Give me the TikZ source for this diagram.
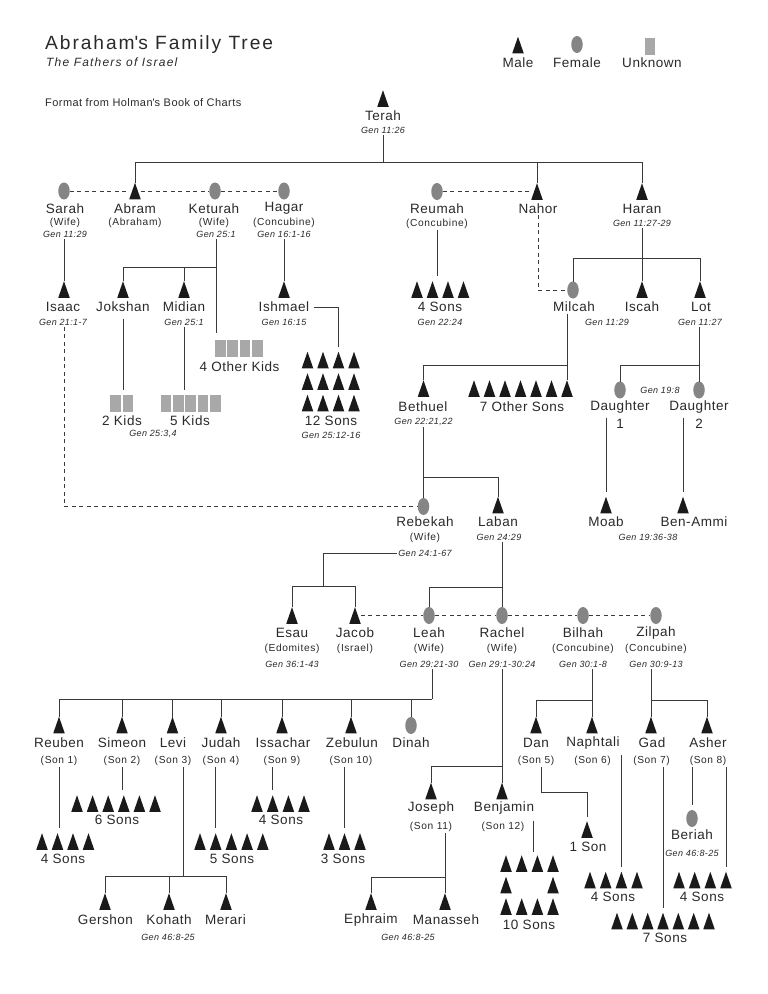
\documentclass[tikz,border=0pt]{standalone}
\usepackage{fontspec}
\setmainfont{Liberation Sans}[LetterSpace=4]
\usetikzlibrary{shapes.geometric}
\definecolor{malec}{HTML}{1A1A1A}
\definecolor{femc}{HTML}{858585}
\definecolor{unkc}{HTML}{A8A8A8}
\definecolor{linec}{HTML}{3A3A3A}
\definecolor{txtc}{HTML}{2A2A2A}
\newcommand\maleS[3]{\node[symbox] (#1) at (#2,#3) {};\fill[malec] (#1.south west) -- (#1.south east) -- (#1.north) -- cycle;}
\newcommand\femS[3]{\node[fembox] (#1) at (#2,#3) {};}
\newcommand\unkS[3]{\node[unkbox] (#1) at (#2,#3) {};}
\tikzset{
 symbox/.style={rectangle, minimum width=11.5pt, minimum height=16.5pt, inner sep=0pt, outer sep=0pt},
 fembox/.style={ellipse, fill=femc, minimum width=11.5pt, minimum height=17pt, inner sep=0pt, outer sep=0pt},
 unkbox/.style={rectangle, fill=unkc, minimum width=10.5pt, minimum height=17pt, inner sep=0pt, outer sep=0pt},
 nm/.style={font=\fontsize{13.5}{15}\selectfont, text=txtc, inner sep=1.5pt},
 pr/.style={font=\fontsize{10.2}{11}\selectfont\addfontfeature{LetterSpace=6}, text=txtc, inner sep=1.5pt},
 gn/.style={font=\fontsize{9}{10}\selectfont\itshape, text=txtc, inner sep=1.5pt},
 link/.style={draw=linec, line width=0.8pt},
 dlink/.style={link, dash pattern=on 4pt off 3.5pt},
 gapend/.style={shorten >=5pt},
}
\begin{document}
\begin{tikzpicture}[x=1pt,y=-1pt]
\fill[white] (0,0) rectangle (768,994);
\useasboundingbox (0,0) rectangle (768,994);
% ---- title & legend
\node[anchor=west, font=\fontsize{19.2}{21}\selectfont\addfontfeature{LetterSpace=10}, text=txtc, inner sep=0pt] (title) at (45,45) {Abraham\textquotesingle s Family Tree};
\node[anchor=west, font=\fontsize{12}{13}\selectfont\itshape\addfontfeature{LetterSpace=10}, text=txtc, inner sep=0pt] (subtitle) at (46,62) {The Fathers of Israel};
\node[anchor=west, font=\fontsize{11}{12}\selectfont, text=txtc, inner sep=0pt] (format) at (45,103) {Format from Holman\textquotesingle s Book of Charts};
\maleS{lgm}{518}{45}
\femS{lgf}{577}{44.5}
\unkS{lgu}{650}{46}
\node[nm] (lgmT) at (518,62.5) {Male};
\node[nm] (lgfT) at (577,62.5) {Female};
\node[nm] (lguT) at (652,63) {Unknown};
% ---- Terah
\maleS{terah}{383}{98.5}
\node[nm] (terahN) at (383,116) {Terah};
\node[gn] (terahG) at (383,130.5) {Gen 11:26};
\coordinate (b1) at (383,162);
% ---- row 2
\femS{sarah}{64}{191}
\node[nm] (sarahN) at (65,208.5) {Sarah};
\node[pr] (sarahP) at (65,223) {(Wife)};
\node[gn] (sarahG) at (65,234.5) {Gen 11:29};
\maleS{abram}{135}{191}
\node[nm] (abramN) at (135,208.5) {Abram};
\node[pr] (abramP) at (135,223) {(Abraham)};
\femS{keturah}{215}{191}
\node[nm] (keturahN) at (214,208.5) {Keturah};
\node[pr] (keturahP) at (214,223) {(Wife)};
\node[gn] (keturahG) at (216,234.5) {Gen 25:1};
\femS{hagar}{284}{191}
\node[nm] (hagarN) at (284,208.5) {Hagar};
\node[pr] (hagarP) at (284,223) {(Concubine)};
\node[gn] (hagarG) at (284,234.5) {Gen 16:1-16};
\femS{reumah}{437}{191.5}
\node[nm] (reumahN) at (437,209) {Reumah};
\node[pr] (reumahP) at (437,224) {(Concubine)};
\maleS{nahor}{537}{191.5}
\node[nm] (nahorN) at (538,208.5) {Nahor};
\maleS{haran}{642}{191.5}
\node[nm] (haranN) at (642,208.5) {Haran};
\node[gn] (haranG) at (642,223) {Gen 11:27-29};
\draw[link] (terahG.south) -- (b1);
\draw[link] (abram.north) |- (b1);
\draw[link] (nahor.north) |- (b1);
\draw[link] (haran.north) |- (b1);
\draw[dlink] (sarah) -- (abram) -- (keturah) -- (hagar);
\draw[dlink] (reumah) -- (nahor);
% ---- row 3
\maleS{isaac}{64}{289.5}
\node[nm] (isaacN) at (63,307) {Isaac};
\node[gn] (isaacG) at (63,322) {Gen 21:1-7};
\draw[link] (isaac.north |- sarahG.south) -- (isaac.north);
\maleS{jokshan}{123}{289.5}
\node[nm] (jokshanN) at (123,307) {Jokshan};
\maleS{midian}{184}{289.5}
\node[nm] (midianN) at (184,307) {Midian};
\node[gn] (midianG) at (184,322) {Gen 25:1};
\coordinate (b2) at (216,267);
\foreach \i/\x in {1/220.3,2/232.7,3/245,4/257.3} {\unkS{ok\i}{\x}{348.5}}
\node[nm] (okT) at (239.5,367) {4 Other Kids};
\draw[link, shorten >=7pt] (keturahG.south) -- (keturahG.south |- ok1.north);
\draw[link] (jokshan.north) |- (b2);
\draw[link] (midian.north) |- (b2);
\unkS{jk1}{115.7}{403}
\unkS{jk2}{128}{403}
\node[nm] (jkT) at (122,420.5) {2 Kids};
\node[gn] (jkG) at (153,433.5) {Gen 25:3,4};
\draw[link, gapend, shorten <=5pt] (jokshanN.south) -- (jokshanN.south |- jk1.north);
\foreach \i/\x in {1/166,2/178.3,3/190.7,4/203,5/215.3} {\unkS{mk\i}{\x}{403}}
\node[nm] (mkT) at (190,421) {5 Kids};
\draw[link, gapend] (midianG.south) -- (midianG.south |- mk1.north);
\maleS{ishmael}{284}{289.5}
\node[nm] (ishmaelN) at (284,307) {Ishmael};
\node[gn] (ishmaelG) at (284,322) {Gen 16:15};
\draw[link] (hagarG.south) -- (ishmael.north);
\foreach \r/\y in {1/360,2/381.5,3/403} {\foreach \c/\x in {1/307.5,2/323,3/338.5,4/354} {\maleS{is\r\c}{\x}{\y}}}
\node[nm] (isT) at (331,421) {12 Sons};
\node[gn] (isG) at (331,435) {Gen 25:12-16};
\draw[link, gapend, shorten <=3pt] (ishmaelN.east) -| (is13.north);
\foreach \i/\x in {1/417,2/432.5,3/448,4/463.5} {\maleS{rs\i}{\x}{289.5}}
\node[nm] (rsT) at (440,307) {4 Sons};
\node[gn] (rsG) at (440,322) {Gen 22:24};
\draw[link, gapend] (reumahP.south) -- (reumahP.south |- rs1.north);
\femS{milcah}{573}{290}
\node[nm] (milcahN) at (574,307) {Milcah};
\node[gn] (milcahG) at (607,322) {Gen 11:29};
\maleS{iscah}{642}{289.5}
\node[nm] (iscahN) at (642,307) {Iscah};
\maleS{lot}{700}{289.5}
\node[nm] (lotN) at (701,307) {Lot};
\node[gn] (lotG) at (700,322) {Gen 11:27};
\coordinate (b3) at (642,258);
\draw[link] (haranG.south) -- (b3);
\draw[link] (milcah.north) |- (b3);
\draw[link] (iscah.north) -- (b3);
\draw[link] (lot.north) |- (b3);
\draw[dlink] (nahorN.south) |- (milcah.west);
% ---- Bethuel row
\maleS{bethuel}{423.5}{388.5}
\node[nm] (bethuelN) at (423,407) {Bethuel};
\node[gn] (bethuelG) at (423.5,422) {Gen 22:21,22};
\foreach \i/\x in {1/474,2/489.5,3/505,4/520.5,5/536,6/551.5,7/567} {\maleS{os\i}{\x}{388.5}}
\node[nm] (osT) at (522,407) {7 Other Sons};
\coordinate (b4) at (567,365);
\draw[link] (os7.north |- milcahN.south) -- (os7.north);
\draw[link] (bethuel.north) |- (b4);
\femS{dau1}{620}{390}
\node[nm] (dau1N) at (620,407) {Daughter};
\node[nm] (dau1M) at (620,424) {1};
\femS{dau2}{699}{390}
\node[nm] (dau2N) at (699,407) {Daughter};
\node[nm] (dau2M) at (699,424) {2};
\node[gn] (dauG) at (660,390) {Gen 19:8};
\coordinate (b5) at (699,365);
\draw[link] (dau2.north |- lotG.south) -- (dau2.north);
\draw[link] (dau1.north) |- (b5);
\maleS{moab}{606}{505}
\node[nm] (moabN) at (606,522) {Moab};
\maleS{benammi}{683}{505}
\node[nm] (benammiN) at (694,522) {Ben-Ammi};
\node[gn] (moabG) at (648,537) {Gen 19:36-38};
\draw[link, gapend] (moab.north |- dau1M.north) -- (moab.north);
\draw[link, gapend] (benammi.north |- dau2M.north) -- (benammi.north);
% ---- Rebekah row
\femS{rebekah}{423.5}{506.5}
\node[nm] (rebekahN) at (425,522) {Rebekah};
\node[pr] (rebekahP) at (425,538) {(Wife)};
\node[gn] (rebekahG) at (425,553) {Gen 24:1-67};
\maleS{laban}{498}{505}
\node[nm] (labanN) at (498,522) {Laban};
\node[gn] (labanG) at (499,537) {Gen 24:29};
\coordinate (b6) at (423.5,477);
\draw[link] (bethuelG.south) -- (rebekah.north);
\draw[link] (laban.north) |- (b6);
\draw[dlink] (isaac.north |- isaacG.south) |- (rebekah.west);
% ---- Jacob row
\maleS{esau}{292}{615.5}
\node[nm] (esauN) at (292,633) {Esau};
\node[pr] (esauP) at (292,649) {(Edomites)};
\node[gn] (esauG) at (292,664) {Gen 36:1-43};
\maleS{jacob}{355}{615.5}
\node[nm] (jacobN) at (355,633) {Jacob};
\node[pr] (jacobP) at (355,649) {(Israel)};
\femS{leah}{429}{615.5}
\node[nm] (leahN) at (429,633) {Leah};
\node[pr] (leahP) at (429,649) {(Wife)};
\node[gn] (leahG) at (429,664) {Gen 29:21-30};
\femS{rachel}{502}{615.5}
\node[nm] (rachelN) at (502,633) {Rachel};
\node[pr] (rachelP) at (502,649) {(Wife)};
\node[gn] (rachelG) at (502,664) {Gen 29:1-30:24};
\femS{bilhah}{583}{615.5}
\node[nm] (bilhahN) at (583,633) {Bilhah};
\node[pr] (bilhahP) at (583,649) {(Concubine)};
\node[gn] (bilhahG) at (583,664) {Gen 30:1-8};
\femS{zilpah}{656}{615.5}
\node[nm] (zilpahN) at (656,633) {Zilpah};
\node[pr] (zilpahP) at (656,649) {(Concubine)};
\node[gn] (zilpahG) at (656,664) {Gen 30:9-13};
\coordinate (b7) at (323,586);
\draw[link] (rebekahG.west) -| (b7);
\draw[link] (esau.north) |- (b7);
\draw[link] (jacob.north) |- (b7);
\coordinate (b8) at (502,587);
\draw[link] (rachel.north |- labanG.south) -- (rachel.north);
\draw[link] (leah.north) |- (b8);
\draw[dlink] (jacob) -- (leah) -- (rachel) -- (bilhah) -- (zilpah);
% ---- Leah's children
\coordinate (b9) at (432,699);
\draw[link] (b9 |- leahG.south) -- (b9);
\maleS{reuben}{59}{725}
\maleS{simeon}{122}{725}
\maleS{levi}{172.5}{725}
\maleS{judah}{221}{725}
\maleS{issachar}{282}{725}
\maleS{zebulun}{351}{725}
\femS{dinah}{411}{725.5}
\node[nm] (reubenN) at (59,743) {Reuben};
\node[nm] (simeonN) at (122,743) {Simeon};
\node[nm] (leviN) at (173,743) {Levi};
\node[nm] (judahN) at (221,743) {Judah};
\node[nm] (issacharN) at (283,743) {Issachar};
\node[nm] (zebulunN) at (352,743) {Zebulun};
\node[nm] (dinahN) at (411,743) {Dinah};
\node[pr] (reubenP) at (59,761) {(Son 1)};
\node[pr] (simeonP) at (122,761) {(Son 2)};
\node[pr] (leviP) at (173,761) {(Son 3)};
\node[pr] (judahP) at (221,761) {(Son 4)};
\node[pr] (issacharP) at (282,761) {(Son 9)};
\node[pr] (zebulunP) at (351,761) {(Son 10)};
\draw[link] (reuben.north) |- (b9);
\foreach \n in {simeon,levi,judah,issachar,zebulun,dinah} {\draw[link] (\n.north) -- (\n.north |- b9);}
\foreach \i/\x in {1/42,2/57.5,3/73,4/88.5} {\maleS{rb\i}{\x}{841.5}}
\node[nm] (rbT) at (63,859) {4 Sons};
\draw[link, gapend] (reubenP.south) -- (reubenP.south |- rb1.north);
\foreach \i/\x in {1/77,2/92.6,3/108.2,4/123.8,5/139.4,6/155} {\maleS{sm\i}{\x}{803.5}}
\node[nm] (smT) at (117,820) {6 Sons};
\draw[link, gapend] (simeonP.south) -- (simeonP.south |- sm1.north);
\coordinate (b10) at (183,876);
\draw[link] (b10 |- leviP.south) -- (b10);
\maleS{gershon}{105}{901.5}
\maleS{kohath}{169}{901.5}
\maleS{merari}{226}{901.5}
\node[nm] (gershonN) at (105.5,920) {Gershon};
\node[nm] (kohathN) at (169,920) {Kohath};
\node[nm] (merariN) at (225.5,920) {Merari};
\node[gn] (leviG) at (168,937) {Gen 46:8-25};
\draw[link] (gershon.north) |- (b10);
\draw[link] (kohath.north) |- (b10);
\draw[link] (merari.north) |- (b10);
\foreach \i/\x in {1/200,2/215.7,3/231.4,4/247.1,5/262.8} {\maleS{jd\i}{\x}{841.5}}
\node[nm] (jdT) at (232,859) {5 Sons};
\draw[link, gapend] (jd2.north |- judahP.south) -- (jd2.north);
\foreach \i/\x in {1/257,2/272.7,3/288.4,4/304} {\maleS{ic\i}{\x}{803.5}}
\node[nm] (icT) at (281,820) {4 Sons};
\draw[link, gapend] (ic2.north |- issacharP.south) -- (ic2.north);
\foreach \i/\x in {1/329,2/344.5,3/360} {\maleS{zb\i}{\x}{841.5}}
\node[nm] (zbT) at (343,859) {3 Sons};
\draw[link, gapend] (zb2.north |- zebulunP.south) -- (zb2.north);
% ---- Rachel's children
\maleS{joseph}{431}{791}
\maleS{benjamin}{502}{791}
\node[nm] (josephN) at (431,808) {Joseph};
\node[nm] (benjaminN) at (504,808) {Benjamin};
\node[pr] (josephP) at (431,827) {(Son 11)};
\node[pr] (benjaminP) at (503,827) {(Son 12)};
\coordinate (b11) at (502,766);
\draw[link] (rachelG.south) -- (benjamin.north);
\draw[link] (joseph.north) |- (b11);
\maleS{ephraim}{371}{901.5}
\maleS{manasseh}{445}{901.5}
\node[nm] (ephraimN) at (371,920) {Ephraim};
\node[nm] (manassehN) at (446,920) {Manasseh};
\node[gn] (josephG) at (408,937) {Gen 46:8-25};
\coordinate (b12) at (445,877);
\draw[link] (manasseh.north |- josephP.south) -- (manasseh.north);
\draw[link] (ephraim.north) |- (b12);
\foreach \c/\x in {1/506,2/521.7,3/537.4,4/553} {\maleS{bja\c}{\x}{863.5}\maleS{bjc\c}{\x}{906.5}}
\maleS{bjb1}{506}{885}
\maleS{bjb4}{553}{885}
\node[nm] (bjT) at (529,925) {10 Sons};
\coordinate (b13) at (533,852);
\draw[link] (b13 |- benjaminP.north) -- (b13);
% ---- Bilhah's and Zilpah's children
\maleS{dan}{536}{725}
\maleS{naphtali}{592}{725}
\maleS{gad}{651}{725}
\maleS{asher}{707}{725}
\node[nm] (danN) at (536,743) {Dan};
\node[nm] (naphtaliN) at (593,743) {Naphtali};
\node[nm] (gadN) at (652,743) {Gad};
\node[nm] (asherN) at (708,743) {Asher};
\node[pr] (danP) at (536,761) {(Son 5)};
\node[pr] (naphtaliP) at (592.5,761) {(Son 6)};
\node[pr] (gadP) at (651.5,761) {(Son 7)};
\node[pr] (asherP) at (708,761) {(Son 8)};
\coordinate (b14) at (592,700);
\draw[link] (naphtali.north |- bilhahG.south) -- (naphtali.north);
\draw[link] (dan.north) |- (b14);
\coordinate (b15) at (651,700);
\draw[link] (gad.north |- zilpahG.south) -- (gad.north);
\draw[link] (asher.north) |- (b15);
\maleS{oneson}{587}{829.5}
\node[nm] (onesonT) at (588,847) {1 Son};
\coordinate (b16) at (541,792);
\draw[link, shorten >=4pt] (b16 |- danP.south) -- (b16) -| (oneson.north);
\foreach \i/\x in {1/590,2/605.7,3/621.4,4/637} {\maleS{np\i}{\x}{880}}
\node[nm] (npT) at (613,897) {4 Sons};
\draw[link, gapend, shorten <=4pt] (np3.north |- naphtaliN.south) -- (np3.north);
\foreach \i/\x in {1/617,2/632.3,3/647.7,4/663,5/678.3,6/693.7,7/709} {\maleS{gd\i}{\x}{921}}
\node[nm] (gdT) at (665,938) {7 Sons};
\draw[link, gapend] (gd4.north |- gadP.south) -- (gd4.north);
\femS{beriah}{692}{818.5}
\node[nm] (beriahN) at (692,835) {Beriah};
\node[gn] (beriahG) at (692,853) {Gen 46:8-25};
\draw[link, gapend] (beriah.north |- asherP.south) -- (beriah.north);
\foreach \i/\x in {1/679,2/694.7,3/710.3,4/726} {\maleS{as\i}{\x}{880}}
\node[nm] (asT) at (702,897) {4 Sons};
\draw[link, gapend] (as4.north |- asherP.south) -- (as4.north);
\end{tikzpicture}
\end{document}
